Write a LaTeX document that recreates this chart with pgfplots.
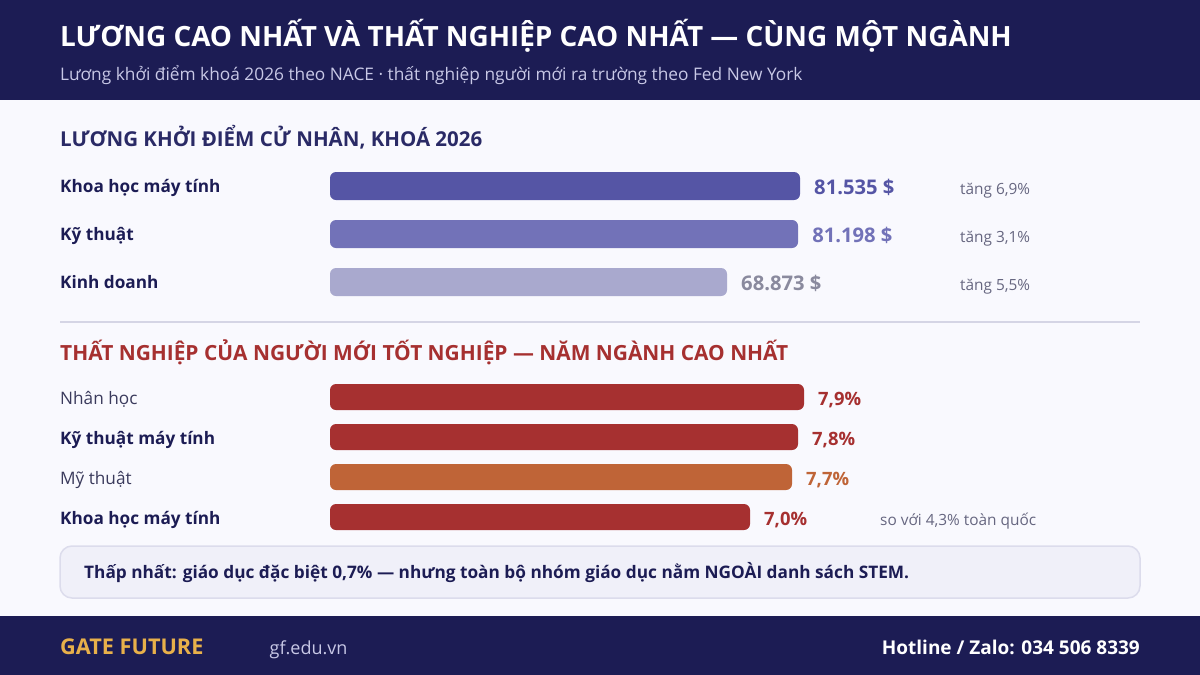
\documentclass[border=0pt]{standalone}
\usepackage{fontspec}
\usepackage{pgfplots}
\pgfplotsset{compat=1.18}
\setmainfont{Open Sans}
\definecolor{navy}{HTML}{1C1C54}
\definecolor{head}{HTML}{2A2A66}
\definecolor{pagebg}{HTML}{F9F9FE}
\definecolor{sub}{HTML}{C8C8E6}
\definecolor{cA}{HTML}{5555A5}
\definecolor{cB}{HTML}{7272B8}
\definecolor{cC}{HTML}{A9A9CE}
\definecolor{cCt}{HTML}{8A8A9E}
\definecolor{red}{HTML}{A63030}
\definecolor{ora}{HTML}{BF6437}
\definecolor{note}{HTML}{666680}
\definecolor{reg}{HTML}{3A3A5C}
\definecolor{rule}{HTML}{D5D5E5}
\definecolor{card}{HTML}{F0F0F9}
\definecolor{cardb}{HTML}{DCDCEC}
\definecolor{gold}{HTML}{E8B04A}
\newcommand\fs[1]{\fontsize{#1pt}{#1pt}\selectfont}
\pgfplotstableread{
cat val
0 81535
}\tA
\pgfplotstableread{
cat val
1 81198
}\tB
\pgfplotstableread{
cat val
2 68873
}\tC
\pgfplotstableread{
cat val
0 7.9
}\uA
\pgfplotstableread{
cat val
1 7.8
}\uB
\pgfplotstableread{
cat val
2 7.7
}\uC
\pgfplotstableread{
cat val
3 7.0
}\uD
\pgfplotsset{rowstyle/.style={
  xbar, bar shift=0pt, scale only axis, width=810pt, clip=false,
  axis line style={draw=none}, major tick length=0pt, tick style={draw=none},
  xtick=\empty, xmin=0, y dir=reverse, point meta=x,
  yticklabel style={anchor=base west, inner sep=0pt, xshift=-270pt, font=\fs{17.2}, text=navy},
  nodes near coords style={anchor=base west, inner sep=0pt, xshift=14pt},
  every axis plot/.append style={draw=none, rounded corners=6pt},
}}
\begin{document}
\begin{tikzpicture}
\begin{scope}[x=1pt,y=-1pt]
\path[use as bounding box] (0,0) rectangle (1200,675);
\fill[pagebg] (0,0) rectangle (1200,675);
\fill[navy] (0,0) rectangle (1200,100);
\fill[navy] (0,616) rectangle (1200,675);
\fill[rule] (60,321) rectangle (1140,323);
\path[draw=cardb, fill=card, line width=1.5pt, rounded corners=12pt] (60,546) rectangle (1140,598);
\node[anchor=base west, inner sep=0, text=white, font=\fs{27.9}\bfseries] at (60,46) {LƯƠNG CAO NHẤT VÀ THẤT NGHIỆP CAO NHẤT — CÙNG MỘT NGÀNH};
\node[anchor=base west, inner sep=0, text=sub, font=\fs{17.3}] at (60,80) {Lương khởi điểm khoá 2026 theo NACE · thất nghiệp người mới ra trường theo Fed New York};
\node[anchor=base west, inner sep=0, text=head, font=\fs{20.5}\bfseries] at (60,146) {LƯƠNG KHỞI ĐIỂM CỬ NHÂN, KHOÁ 2026};
\node[anchor=base west, inner sep=0, text=red, font=\fs{20.9}\bfseries] at (60,360) {THẤT NGHIỆP CỦA NGƯỜI MỚI TỐT NGHIỆP — NĂM NGÀNH CAO NHẤT};
\node[anchor=base west, inner sep=0, text=note, font=\fs{15.4}] at (960,194) {tăng 6,9\%};
\node[anchor=base west, inner sep=0, text=note, font=\fs{15.4}] at (960,242) {tăng 3,1\%};
\node[anchor=base west, inner sep=0, text=note, font=\fs{15.4}] at (960,290) {tăng 5,5\%};
\node[anchor=base west, inner sep=0, text=note, font=\fs{15.4}] at (880,525) {so với 4,3\% toàn quốc};
\node[anchor=base west, inner sep=0, text=navy, font=\fs{17.25}\bfseries] at (84,578) {Thấp nhất: giáo dục đặc biệt 0,7\% — nhưng toàn bộ nhóm giáo dục nằm NGOÀI danh sách STEM.};
\node[anchor=base west, inner sep=0, text=gold, font=\fs{21.7}\bfseries] at (60,654) {GATE FUTURE};
\node[anchor=base west, inner sep=0, text=sub, font=\fs{18}] at (269.5,654) {gf.edu.vn};
\node[anchor=base east, inner sep=0, text=white, font=\fs{19}\bfseries] at (1140,654) {Hotline / Zalo: 034 506 8339};
\end{scope}
\begin{axis}[rowstyle, at={(330pt,-162pt)}, anchor=north west, height=144pt,
  xmax=140514, ymin=-0.5, ymax=2.5, bar width=28pt,
  ytick={0,1,2},
  yticklabel style={yshift=-6pt},
  nodes near coords style={yshift=-8.5pt},
  yticklabels={{\bfseries Khoa học máy tính},{\bfseries Kỹ thuật},{\bfseries Kinh doanh}},
  /pgf/number format/.cd, 1000 sep={.}, assume math mode=true]
\addplot[fill=cA, nodes near coords={\pgfmathprintnumber{\pgfplotspointmeta} \$},
  every node near coord/.append style={text=cA, font=\fs{20.2}\bfseries}] table[x=val,y=cat] {\tA};
\addplot[fill=cB, nodes near coords={\pgfmathprintnumber{\pgfplotspointmeta} \$},
  every node near coord/.append style={text=cB, font=\fs{20.2}\bfseries}] table[x=val,y=cat] {\tB};
\addplot[fill=cC, nodes near coords={\pgfmathprintnumber{\pgfplotspointmeta} \$},
  every node near coord/.append style={text=cCt, font=\fs{20.2}\bfseries}] table[x=val,y=cat] {\tC};
\end{axis}
\begin{axis}[rowstyle, at={(330pt,-377pt)}, anchor=north west, height=160pt,
  xmax=13.5, ymin=-0.5, ymax=3.5, bar width=26pt,
  ytick={0,1,2,3},
  yticklabel style={yshift=-7pt},
  nodes near coords style={yshift=-8pt},
  yticklabels={{\color{reg}Nhân học},{\bfseries Kỹ thuật máy tính},{\color{reg}Mỹ thuật},{\bfseries Khoa học máy tính}},
  /pgf/number format/.cd, use comma, fixed, fixed zerofill, precision=1, assume math mode=true]
\addplot[fill=red, nodes near coords={\pgfmathprintnumber{\pgfplotspointmeta}\%},
  every node near coord/.append style={text=red, font=\fs{18.4}\bfseries}] table[x=val,y=cat] {\uA};
\addplot[fill=red, nodes near coords={\pgfmathprintnumber{\pgfplotspointmeta}\%},
  every node near coord/.append style={text=red, font=\fs{18.4}\bfseries}] table[x=val,y=cat] {\uB};
\addplot[fill=ora, nodes near coords={\pgfmathprintnumber{\pgfplotspointmeta}\%},
  every node near coord/.append style={text=ora, font=\fs{18.4}\bfseries}] table[x=val,y=cat] {\uC};
\addplot[fill=red, nodes near coords={\pgfmathprintnumber{\pgfplotspointmeta}\%},
  every node near coord/.append style={text=red, font=\fs{18.4}\bfseries}] table[x=val,y=cat] {\uD};
\end{axis}
\end{tikzpicture}
\end{document}
